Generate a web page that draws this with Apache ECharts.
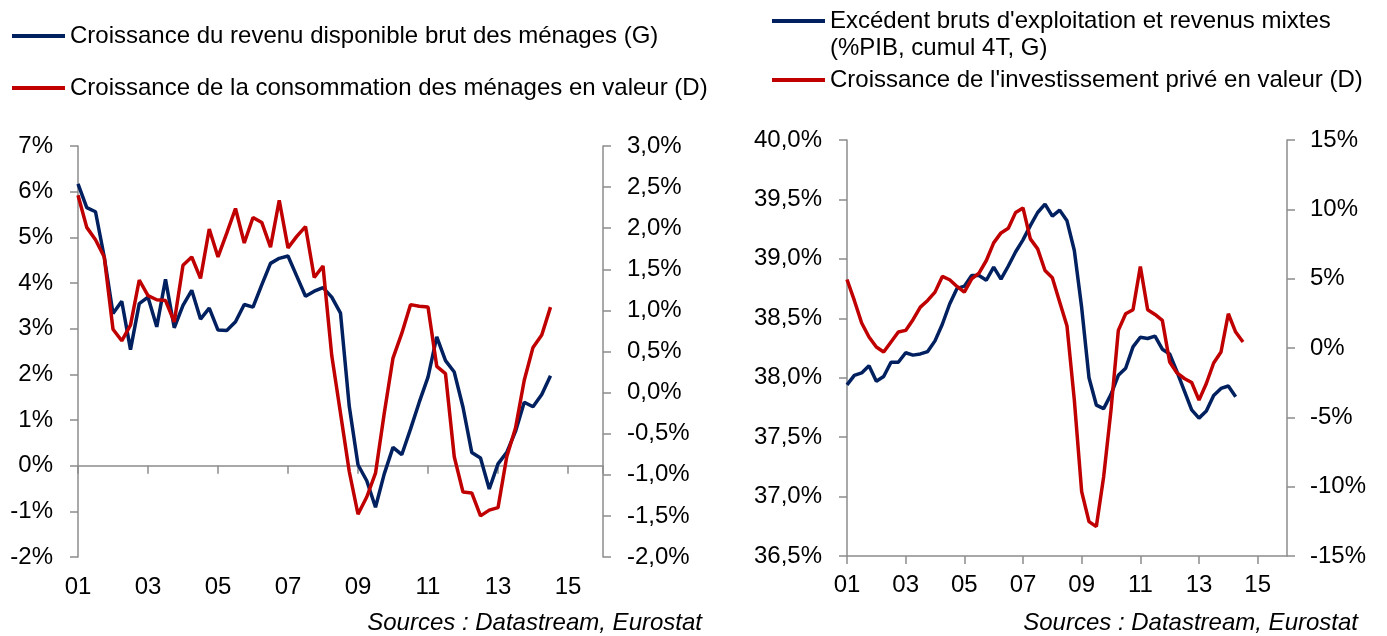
<!DOCTYPE html>
<html>
<head>
<meta charset="utf-8">
<script src="https://cdn.jsdelivr.net/npm/echarts@6/dist/echarts.min.js"></script>
<style>
  html, body { margin: 0; padding: 0; background: #fff; }
  #chart { width: 1387px; height: 636px; }
</style>
</head>
<body>
<div id="chart"></div>
<script>
// séries trimestrielles, premier point = 2001 T1
var START_YEAR = 2001;
var yearTicks = ['01', '03', '05', '07', '09', '11', '13', '15'];

var nomRevenu = 'Croissance du revenu disponible brut des ménages (G)';
var nomConso = 'Croissance de la consommation des ménages en valeur (D)';
var nomEbe = "Excédent bruts d'exploitation et revenus mixtes";
var nomEbeSuite = '(%PIB, cumul 4T, G)';
var nomInvest = "Croissance de l'investissement privé en valeur (D)";

// graphique de gauche
var revenu = [6.17, 5.65, 5.56, 4.57, 3.33, 3.6, 2.54, 3.55, 3.69, 3.04,
  4.08, 3.02, 3.51, 3.84, 3.21, 3.45, 2.97, 2.96, 3.15, 3.53,
  3.47, 3.96, 4.43, 4.54, 4.59, 4.15, 3.71, 3.82, 3.9, 3.69,
  3.34, 1.3, 0.02, -0.33, -0.91, -0.18, 0.4, 0.24, 0.8, 1.39,
  1.94, 2.82, 2.3, 2.05, 1.28, 0.29, 0.17, -0.51, 0.04, 0.29,
  0.75, 1.39, 1.29, 1.56, 1.97];
var conso = [2.40, 2.01, 1.86, 1.65, 0.77, 0.63, 0.82, 1.37, 1.18, 1.13,
  1.12, 0.86, 1.55, 1.65, 1.39, 1.99, 1.65, 1.94, 2.24, 1.82,
  2.13, 2.07, 1.77, 2.34, 1.76, 1.90, 2.02, 1.40, 1.54, 0.45,
  -0.25, -0.96, -1.48, -1.27, -0.98, -0.25, 0.42, 0.72, 1.07, 1.05,
  1.04, 0.32, 0.23, -0.78, -1.21, -1.22, -1.50, -1.43, -1.40, -0.78,
  -0.43, 0.15, 0.55, 0.70, 1.04];

// graphique de droite
var ebe = [37.94, 38.02, 38.04, 38.10, 37.97, 38.01, 38.13, 38.13, 38.21, 38.19,
  38.20, 38.22, 38.31, 38.45, 38.62, 38.75, 38.77, 38.86, 38.86, 38.82,
  38.93, 38.83, 38.94, 39.06, 39.16, 39.28, 39.39, 39.46, 39.36, 39.41,
  39.32, 39.07, 38.59, 38.00, 37.77, 37.74, 37.86, 38.02, 38.08, 38.26,
  38.34, 38.33, 38.35, 38.24, 38.20, 38.05, 37.89, 37.73, 37.66, 37.72,
  37.85, 37.91, 37.93, 37.84];
var invest = [4.94, 3.43, 1.80, 0.79, 0.07, -0.29, 0.43, 1.15, 1.27, 2.04,
  2.95, 3.43, 4.03, 5.16, 4.92, 4.44, 4.03, 4.99, 5.40, 6.31,
  7.58, 8.30, 8.63, 9.78, 10.10, 7.87, 7.15, 5.59, 5.06, 3.31,
  1.58, -3.76, -10.36, -12.52, -12.88, -9.28, -4.48, 1.27, 2.47, 2.76,
  5.88, 2.76, 2.42, 1.99, -1.01, -1.80, -2.20, -2.49, -3.76, -2.56,
  -1.08, -0.29, 2.47, 1.15, 0.43];

var BLEU = '#002060';
var ROUGE = '#C00000';
var GRIS = '#8c8c8c';
var FONT = '"Liberation Sans", Arial, sans-serif';

function trimestres(arr) {
  return arr.map(function(v, i) { return [START_YEAR + i / 4, v]; });
}
function pct(v) { return v + '%'; }
function pctVirgule(v) { return v.toFixed(1).replace('.', ',') + '%'; }
function annee(v) {
  var s = String(v).slice(2);
  return yearTicks.indexOf(s) >= 0 ? s : '';
}

var txt = { fontSize: 24, color: '#000', fontFamily: FONT };
var ligneAxe = { color: GRIS, width: 1.5 };

function legende(nom, left, top) {
  return {
    data: [nom], left: left, top: top, orient: 'vertical',
    icon: 'rect', itemWidth: 53, itemHeight: 4, selectedMode: false,
    padding: 0, textStyle: txt
  };
}

function axeY(grid, pos, min, max, step, fmt, margin) {
  return {
    type: 'value', gridIndex: grid, position: pos, min: min, max: max, interval: step,
    axisLine: { show: true, onZero: false, lineStyle: ligneAxe },
    axisTick: { show: true, length: 8, lineStyle: ligneAxe },
    axisLabel: Object.assign({ formatter: fmt, margin: margin }, txt),
    splitLine: { show: false }
  };
}

function serie(nom, data, xi, yi, couleur) {
  return {
    name: nom, type: 'line', xAxisIndex: xi, yAxisIndex: yi,
    data: trimestres(data), showSymbol: false, symbol: 'none',
    color: couleur, lineStyle: { color: couleur, width: 3.5 }
  };
}

var chart = echarts.init(document.getElementById('chart'));
chart.setOption({
  animation: false,
  backgroundColor: '#fff',
  grid: [
    { left: 78, top: 146, width: 525, height: 411 },
    { left: 847, top: 140, width: 440, height: 416 }
  ],
  legend: [
    legende(nomRevenu, 12, 24),
    legende(nomConso, 12, 76),
    legende(nomEbe, 772, 9),
    legende(nomInvest, 772, 68)
  ],
  xAxis: [
    { // ligne du zéro avec graduations
      type: 'value', gridIndex: 0, min: 2001, max: 2016, interval: 2,
      axisLine: { show: true, onZero: true, onZeroAxisIndex: 0, lineStyle: ligneAxe },
      axisTick: { show: true, length: 8, lineStyle: ligneAxe },
      axisLabel: { show: false },
      splitLine: { show: false }
    },
    { // étiquettes en bas
      type: 'value', gridIndex: 0, position: 'bottom', min: 2001, max: 2016, interval: 2,
      axisLine: { show: false, onZero: false },
      axisTick: { show: false },
      axisLabel: Object.assign({ formatter: annee, margin: 18, showMaxLabel: false }, txt),
      splitLine: { show: false }
    },
    {
      type: 'value', gridIndex: 1, position: 'bottom', min: 2001, max: 2016, interval: 2,
      axisLine: { show: true, onZero: false, lineStyle: ligneAxe },
      axisTick: { show: true, length: 8, lineStyle: ligneAxe },
      axisLabel: Object.assign({ formatter: annee, margin: 17, showMaxLabel: false }, txt),
      splitLine: { show: false }
    }
  ],
  yAxis: [
    axeY(0, 'left', -2, 7, 1, pct, 25),
    axeY(0, 'right', -2, 3, 0.5, pctVirgule, 24),
    axeY(1, 'left', 36.5, 40, 0.5, pctVirgule, 25),
    axeY(1, 'right', -15, 15, 5, pct, 23)
  ],
  graphic: [
    { type: 'text', left: 830, top: 36,
      style: { text: nomEbeSuite, font: '24px ' + FONT, fill: '#000' } },
    { type: 'text', right: 685, top: 611,
      style: { text: 'Sources : Datastream, Eurostat', font: 'italic 24px ' + FONT, fill: '#000' } },
    { type: 'text', right: 29, top: 611,
      style: { text: 'Sources : Datastream, Eurostat', font: 'italic 24px ' + FONT, fill: '#000' } }
  ],
  series: [
    serie(nomRevenu, revenu, 0, 0, BLEU),
    serie(nomConso, conso, 0, 1, ROUGE),
    serie(nomEbe, ebe, 2, 2, BLEU),
    serie(nomInvest, invest, 2, 3, ROUGE)
  ]
});
</script>
</body>
</html>
